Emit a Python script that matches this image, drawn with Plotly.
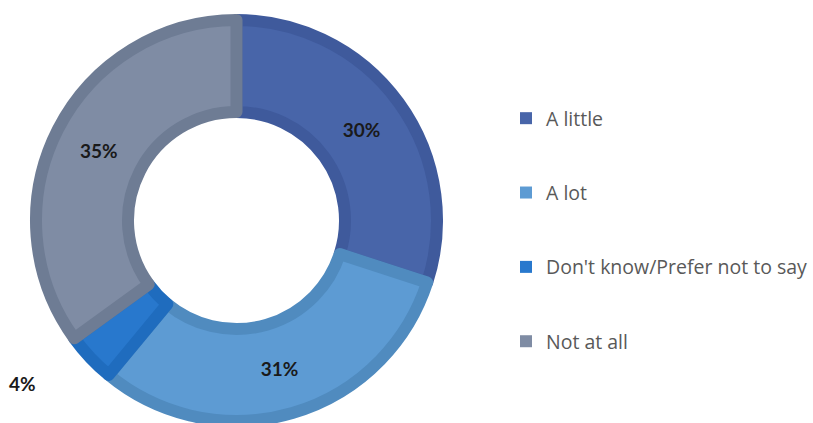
import plotly.graph_objects as go

# Survey response shares (%)
categories = ["A little", "A lot", "Don't know/Prefer not to say", "Not at all"]
values = [30, 31, 4, 35]

fill_colors = ["#4865A9", "#5D9BD3", "#2878CD", "#7F8CA4"]
edge_colors = ["#3F5A9C", "#508BBF", "#1F6CBE", "#6E7C94"]

W, H = 813, 423
cx, cy = 236.5, 220.5      # ring centre (px)
r_out = 206.5              # visible outer radius (px)
stroke = 12                # slice outline width (px)
r_draw = r_out - stroke / 2
r_in_visible = 102.5
hole = (r_in_visible + stroke / 2) / r_draw

label_font = dict(family="Lato", size=19, color="#1a1a1a", weight="bold")

fig = go.Figure()

fig.add_trace(go.Pie(
    labels=categories,
    values=values,
    sort=False,
    direction="clockwise",
    rotation=0,
    hole=hole,
    marker=dict(colors=fill_colors, line=dict(color=edge_colors, width=stroke)),
    text=[f"{v}%" for v in values],
    textinfo="text",
    textposition=["inside", "inside", "none", "inside"],
    insidetextorientation="horizontal",
    textfont=label_font,
    showlegend=False,
    hoverinfo="label+percent",
    domain=dict(
        x=[(cx - r_draw) / W, (cx + r_draw) / W],
        y=[(H - cy - r_draw) / H, (H - cy + r_draw) / H],
    ),
))

# Legend entries (one group each so they can be spaced apart)
for i, (name, col) in enumerate(zip(categories, fill_colors)):
    fig.add_trace(go.Scatter(
        x=[None], y=[None], mode="markers", name=name,
        marker=dict(symbol="square", size=12, color=col),
        legendgroup=f"g{i}", showlegend=True,
    ))

# Small slice labelled outside the ring
small = categories.index("Don't know/Prefer not to say")
fig.add_annotation(
    x=22 / W, y=(H - 383) / H, xref="paper", yref="paper",
    xanchor="center", yanchor="middle",
    text=f"{values[small]}%", showarrow=False,
    font=label_font,
)

fig.update_layout(
    width=W, height=H,
    margin=dict(l=0, r=0, t=0, b=0),
    paper_bgcolor="white", plot_bgcolor="white",
    xaxis=dict(visible=False), yaxis=dict(visible=False),
    legend=dict(
        x=506 / W, y=(H - 99) / H, xanchor="left", yanchor="top",
        font=dict(family="Open Sans", size=19.5, color="#595959"),
        tracegroupgap=46, itemwidth=30,
        bgcolor="rgba(0,0,0,0)",
    ),
)

fig.write_html("out.html")
